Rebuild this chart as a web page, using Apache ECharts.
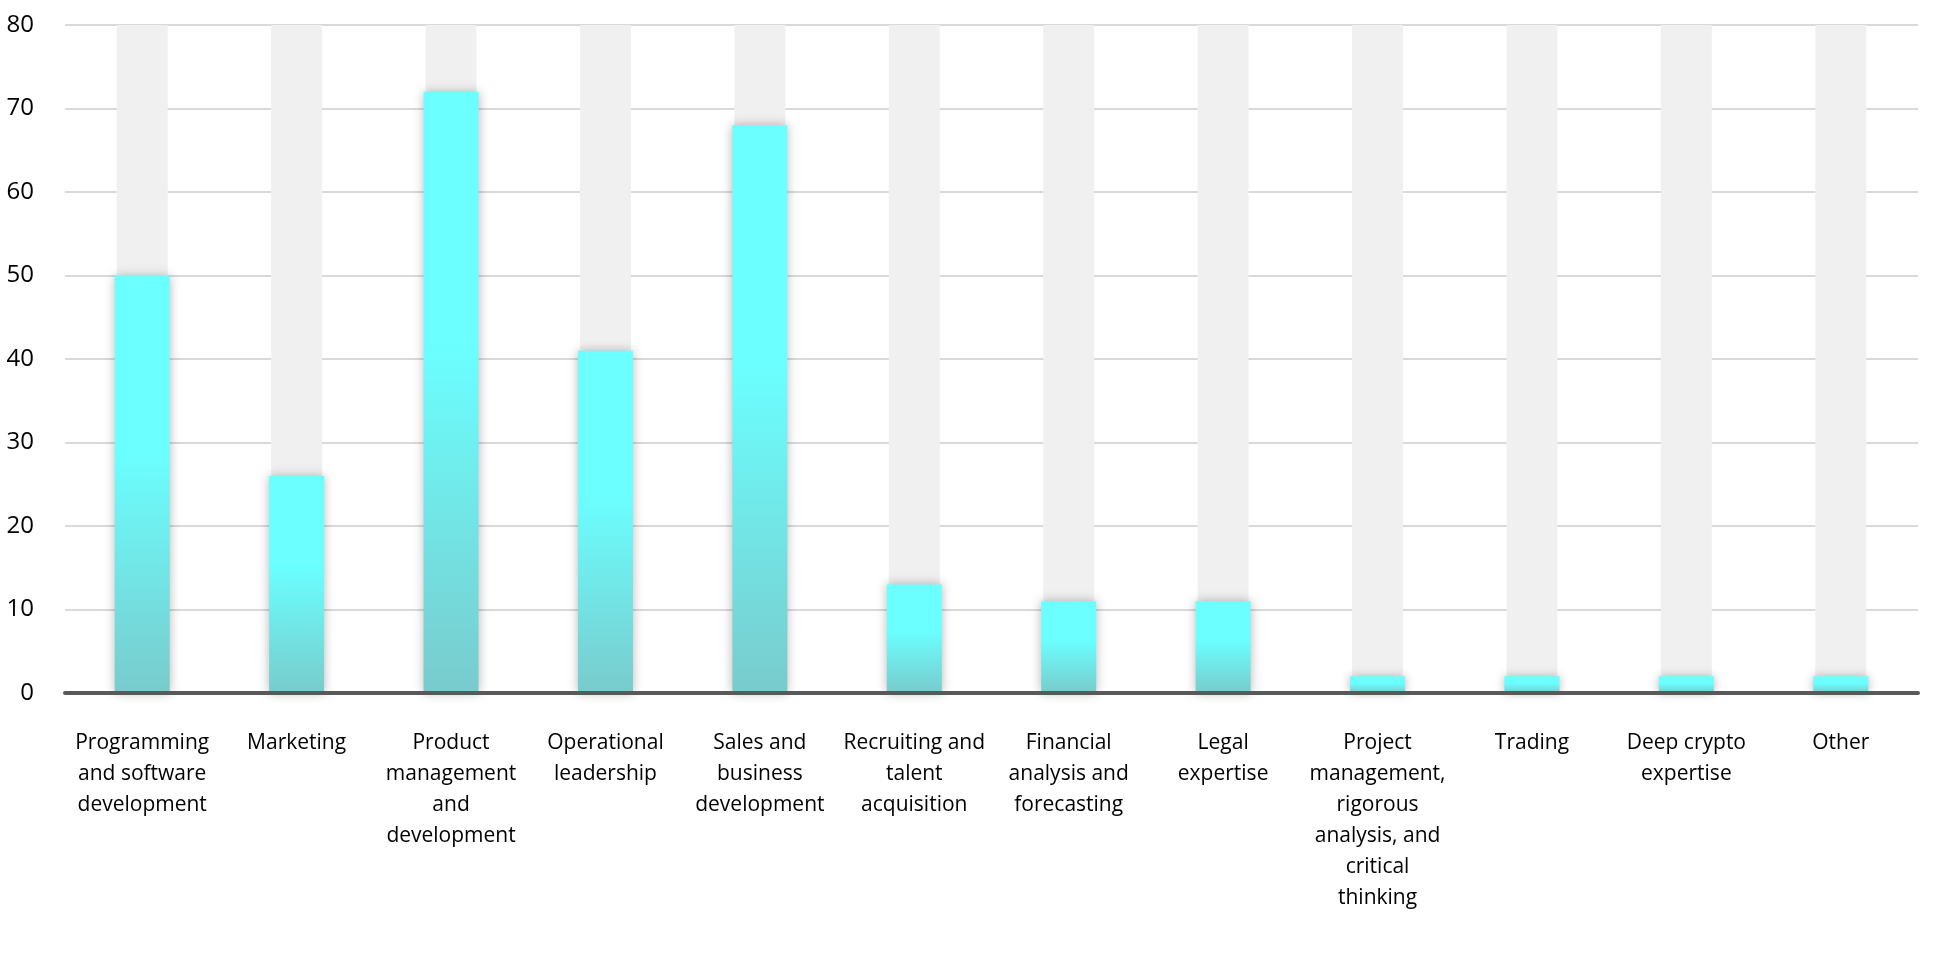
<!DOCTYPE html>
<html>
<head>
<meta charset="utf-8">
<script src="https://cdn.jsdelivr.net/npm/echarts@6/dist/echarts.min.js"></script>
<style>
html,body{margin:0;padding:0;background:#fff;}
#chart{width:1946px;height:960px;}
</style>
</head>
<body>
<div id="chart"></div>
<script>
const categories = [
  'Programming\nand software\ndevelopment',
  'Marketing',
  'Product\nmanagement\nand\ndevelopment',
  'Operational\nleadership',
  'Sales and\nbusiness\ndevelopment',
  'Recruiting and\ntalent\nacquisition',
  'Financial\nanalysis and\nforecasting',
  'Legal\nexpertise',
  'Project\nmanagement,\nrigorous\nanalysis, and\ncritical\nthinking',
  'Trading',
  'Deep crypto\nexpertise',
  'Other'
];
const values = [50, 26, 72, 41, 68, 13, 11, 11, 2, 2, 2, 2];
const yTicks = { min: 0, max: 80, interval: 10 };

const trackData = categories.map(() => yTicks.max);

const chart = echarts.init(document.getElementById('chart'), null, { renderer: 'canvas' });
const font = '"Open Sans", Lato, sans-serif';
chart.setOption({
  animation: false,
  backgroundColor: '#ffffff',
  grid: { left: 65, right: 28, top: 25, bottom: 267, containLabel: false },
  xAxis: [
    {
      type: 'category',
      data: categories,
      axisLine: { show: true, lineStyle: { color: '#595959', width: 4 } },
      axisTick: { show: false },
      axisLabel: {
        interval: 0,
        margin: 35,
        color: '#000000',
        fontFamily: font,
        fontSize: 21,
        lineHeight: 31,
        align: 'center'
      },
      z: 10
    },
    {
      type: 'category',
      data: categories,
      show: false
    }
  ],
  yAxis: {
    type: 'value',
    min: yTicks.min,
    max: yTicks.max,
    interval: yTicks.interval,
    axisLine: { show: false },
    axisTick: { show: false },
    axisLabel: { margin: 31, color: '#000000', fontFamily: font, fontSize: 24 },
    splitLine: { show: true, lineStyle: { color: '#d9d9d9', width: 2 } }
  },
  series: [
    {
      type: 'bar',
      xAxisIndex: 1,
      data: trackData,
      barWidth: 51,
      itemStyle: { color: '#f0f0f0' },
      silent: true,
      z: 1
    },
    {
      type: 'bar',
      xAxisIndex: 0,
      data: values,
      barWidth: 55,
      z: 3,
      itemStyle: {
        color: new echarts.graphic.LinearGradient(0, 0, 0, 1, [
          { offset: 0, color: '#6bffff' },
          { offset: 0.42, color: '#6bffff' },
          { offset: 1, color: '#79cbcc' }
        ]),
        shadowBlur: 10,
        shadowColor: 'rgba(0,0,0,0.28)',
        shadowOffsetX: 0,
        shadowOffsetY: 0
      }
    }
  ]
});
</script>
</body>
</html>
